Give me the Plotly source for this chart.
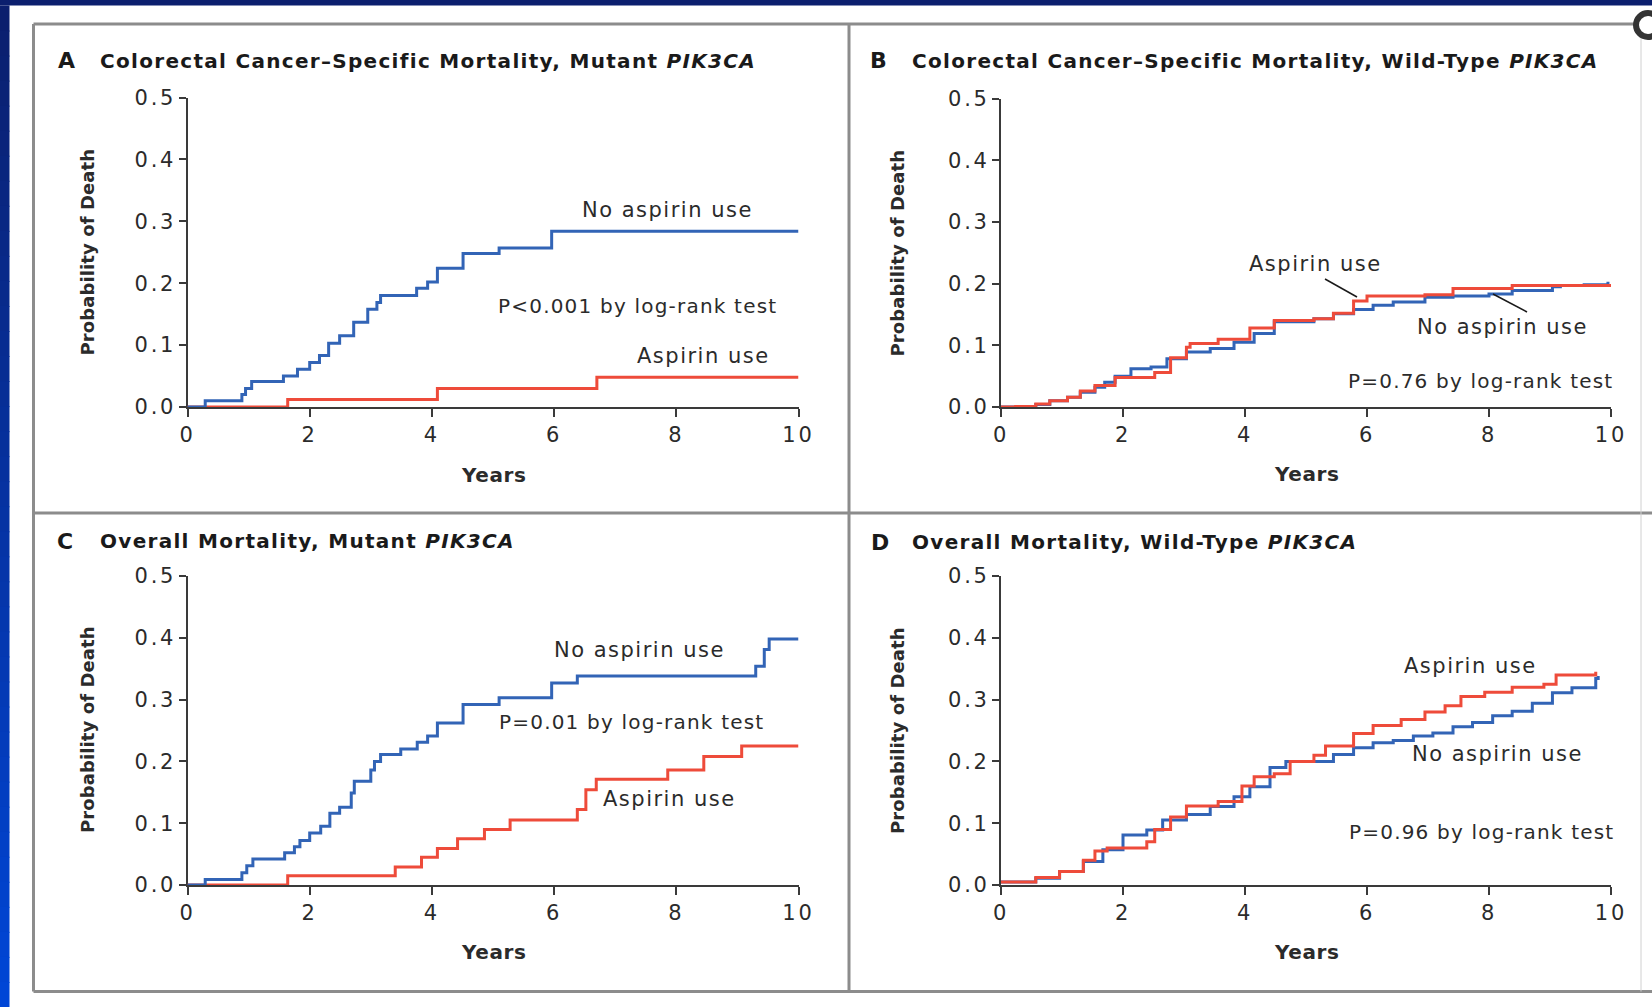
import plotly.graph_objects as go

W, H = 1652, 1007

# ---------------- data ----------------
YEARS_TICKS = [0, 2, 4, 6, 8, 10]
PROB_TICKS = [0.0, 0.1, 0.2, 0.3, 0.4, 0.5]

# Panel A: colorectal cancer-specific mortality, mutant PIK3CA
A_no_t = [0, 0.29, 0.89, 0.95, 1.05, 1.57, 1.80, 2.00, 2.16, 2.31, 2.49, 2.72, 2.95, 3.10, 3.16,
          3.75, 3.93, 4.09, 4.51, 5.10, 5.96, 10.0]
A_no_p = [0, 0.010, 0.020, 0.030, 0.041, 0.050, 0.061, 0.072, 0.083, 0.103, 0.115, 0.137, 0.158,
          0.169, 0.180, 0.192, 0.202, 0.224, 0.248, 0.257, 0.284, 0.284]
A_asp_t = [0, 1.64, 4.09, 6.70, 10.0]
A_asp_p = [0, 0.012, 0.030, 0.048, 0.048]

# Panel B: colorectal cancer-specific mortality, wild-type PIK3CA
B_no_t = [0, 0.57, 0.80, 1.09, 1.30, 1.54, 1.70, 1.87, 2.13, 2.46, 2.72, 3.04, 3.43, 3.82, 4.15,
          4.48, 5.13, 5.45, 5.78, 6.10, 6.43, 6.95, 7.41, 8.00, 8.38, 9.04, 9.17, 9.56, 9.95]
B_no_p = [0, 0.004, 0.010, 0.016, 0.024, 0.032, 0.040, 0.050, 0.062, 0.065, 0.078, 0.089, 0.095,
          0.105, 0.119, 0.138, 0.143, 0.151, 0.158, 0.165, 0.170, 0.178, 0.180, 0.183, 0.189,
          0.195, 0.197, 0.198, 0.203]
B_asp_t = [0, 0.24, 0.57, 0.80, 1.09, 1.30, 1.54, 1.87, 2.52, 2.78, 3.04, 3.10, 3.56, 4.08, 4.48,
           5.13, 5.45, 5.78, 6.00, 6.95, 7.41, 8.38, 10.0]
B_asp_p = [0, 0.001, 0.005, 0.010, 0.016, 0.026, 0.035, 0.048, 0.056, 0.080, 0.097, 0.103, 0.110,
           0.128, 0.140, 0.143, 0.152, 0.172, 0.180, 0.182, 0.192, 0.197, 0.197]

# Panel C: overall mortality, mutant PIK3CA
C_no_t = [0, 0.29, 0.89, 0.97, 1.07, 1.59, 1.75, 1.84, 2.00, 2.18, 2.33, 2.49, 2.68, 2.73, 3.00,
          3.06, 3.16, 3.49, 3.76, 3.93, 4.09, 4.51, 5.10, 5.96, 6.38, 9.30, 9.44, 9.52, 10.0]
C_no_p = [0, 0.009, 0.020, 0.031, 0.042, 0.052, 0.062, 0.072, 0.084, 0.095, 0.116, 0.126, 0.149,
          0.168, 0.186, 0.200, 0.211, 0.220, 0.231, 0.241, 0.262, 0.292, 0.303, 0.327, 0.338,
          0.354, 0.381, 0.398, 0.398]
C_asp_t = [0, 1.64, 3.40, 3.83, 4.09, 4.42, 4.86, 5.28, 6.38, 6.52, 6.69, 7.86, 8.45, 9.07, 10.0]
C_asp_p = [0, 0.015, 0.029, 0.045, 0.059, 0.075, 0.090, 0.105, 0.122, 0.154, 0.171, 0.186,
           0.208, 0.225, 0.225]

# Panel D: overall mortality, wild-type PIK3CA
D_no_t = [0, 0.57, 0.96, 1.35, 1.67, 2.00, 2.39, 2.65, 3.04, 3.43, 3.82, 4.08, 4.41, 4.67, 5.13,
          5.45, 5.78, 6.10, 6.43, 6.76, 7.08, 7.41, 7.73, 8.06, 8.38, 8.71, 9.04, 9.36, 9.75, 9.79]
D_no_p = [0.005, 0.011, 0.022, 0.038, 0.057, 0.081, 0.089, 0.105, 0.114, 0.127, 0.143, 0.159,
          0.190, 0.200, 0.200, 0.211, 0.222, 0.230, 0.234, 0.241, 0.246, 0.256, 0.263, 0.274,
          0.281, 0.294, 0.311, 0.319, 0.334, 0.338]
D_asp_t = [0, 0.57, 0.96, 1.35, 1.54, 1.74, 2.39, 2.52, 2.78, 3.04, 3.56, 3.95, 4.15, 4.48, 4.74,
           5.13, 5.32, 5.78, 6.10, 6.56, 6.95, 7.28, 7.54, 7.93, 8.38, 8.90, 9.10, 9.75]
D_asp_p = [0.005, 0.012, 0.022, 0.040, 0.055, 0.060, 0.070, 0.090, 0.110, 0.128, 0.135, 0.160,
           0.175, 0.180, 0.200, 0.210, 0.225, 0.245, 0.258, 0.268, 0.280, 0.290, 0.305, 0.312,
           0.320, 0.325, 0.340, 0.345]

PANEL_LETTERS = ["A", "B", "C", "D"]
PANEL_TITLES = [
    "Colorectal Cancer–Specific Mortality, Mutant <i>PIK3CA</i>",
    "Colorectal Cancer–Specific Mortality, Wild-Type <i>PIK3CA</i>",
    "Overall Mortality, Mutant <i>PIK3CA</i>",
    "Overall Mortality, Wild-Type <i>PIK3CA</i>",
]
Y_TITLE = "Probability of Death"
X_TITLE = "Years"
P_TEXTS = ["P&lt;0.001 by log-rank test", "P=0.76 by log-rank test",
           "P=0.01 by log-rank test", "P=0.96 by log-rank test"]
LBL_NO = "No aspirin use"
LBL_ASP = "Aspirin use"

# ---------------- styling ----------------
BLUE = "#3264b6"
RED = "#ee4b3a"
AXC = "#3a3a3a"
TXT = "#2b2b2b"
FRAME = "#8c8c8c"
FONT = "DejaVu Sans"


def sp(text, ls):
    return f'<span style="letter-spacing:{ls}px">{text}</span>'


def px(x):
    return x / W


def py(y):
    return 1 - y / H


# pixel boxes of each plot area: (x0, x10, y_at_0, y_at_0.5)
BOXES = {
    "A": (187.5, 798.5, 407.0, 97.5),
    "B": (1001.0, 1611.0, 407.0, 98.5),
    "C": (187.5, 798.5, 885.0, 576.0),
    "D": (1001.0, 1611.0, 885.0, 576.0),
}

fig = go.Figure()

series = [
    ("A", A_no_t, A_no_p, A_asp_t, A_asp_p),
    ("B", B_no_t, B_no_p, B_asp_t, B_asp_p),
    ("C", C_no_t, C_no_p, C_asp_t, C_asp_p),
    ("D", D_no_t, D_no_p, D_asp_t, D_asp_p),
]

layout_axes = {}
for i, (key, nt, npv, at, apv) in enumerate(series):
    n = i + 1
    xa = "x" if n == 1 else f"x{n}"
    ya = "y" if n == 1 else f"y{n}"
    x0, x1, y0, y1 = BOXES[key]
    order = [(at, apv, RED), (nt, npv, BLUE)] if key in ("A", "C") else [(nt, npv, BLUE), (at, apv, RED)]
    for t, p, col in order:
        fig.add_trace(go.Scatter(x=t, y=p, mode="lines", line=dict(color=col, width=3, shape="hv"),
                                 xaxis=xa, yaxis=ya, showlegend=False, hoverinfo="skip"))
    common = dict(showgrid=False, zeroline=False, showline=True, linecolor=AXC, linewidth=2,
                  ticks="outside", tickwidth=2, tickcolor=AXC, layer="below traces",
                  automargin=False,
                  tickfont=dict(family=FONT, size=21, color=TXT), fixedrange=True)
    layout_axes[("xaxis" if n == 1 else f"xaxis{n}")] = dict(
        common, domain=[px(x0), px(x1)], range=[0, 10], anchor=ya,
        tickvals=YEARS_TICKS, ticktext=[sp(str(v), 2.8) for v in YEARS_TICKS],
        ticklen=8, ticklabelstandoff=0)
    layout_axes[("yaxis" if n == 1 else f"yaxis{n}")] = dict(
        common, domain=[py(y0), py(y1)], range=[0, 0.5], anchor=xa,
        tickvals=PROB_TICKS, ticktext=[sp(f"{v:.1f}", 2.8) for v in PROB_TICKS],
        ticklen=7, ticklabelstandoff=-2)

fig.update_layout(**layout_axes)

ann = []


def add_text(text, x, y, size=20, bold=False, xanchor="center", angle=0, ls=1.2, color=TXT):
    t = sp(text, ls) if ls else text
    if bold:
        t = f"<b>{t}</b>"
    ann.append(dict(text=t, x=px(x), y=py(y), xref="paper", yref="paper", showarrow=False,
                    xanchor=xanchor, yanchor="middle", textangle=angle,
                    font=dict(family=FONT, size=size, color=color)))


# titles
title_pos = [(66, 97.6, 60.5), (879, 910, 60.5), (65, 97.6, 541), (879.5, 910, 542)]
for (lx, tx, ty), letter, title in zip(title_pos, PANEL_LETTERS, PANEL_TITLES):
    add_text(letter, lx, ty, size=22, bold=True, ls=0, color="#1a1a1a")
    add_text(title, tx, ty, size=20, bold=True, xanchor="left", ls=1.3, color="#1a1a1a")

# axis titles
for (yx, yy), (xx, xy) in [((87, 252.5), (493, 475)), ((897, 252.5), (1306, 474)),
                           ((87, 730), (493, 952)), ((897, 730), (1306, 952))]:
    add_text(Y_TITLE, yx, yy, size=18, bold=True, angle=-90, ls=0.1)
    add_text(X_TITLE, xx, xy, size=20, bold=True, ls=0.6)

# curve labels and p-values
LS_LBL, SZ_LBL = 1.5, 21
add_text(LBL_NO, 667.5, 210, size=SZ_LBL, ls=LS_LBL)
add_text(P_TEXTS[0], 637, 306)
add_text(LBL_ASP, 703.5, 356, size=SZ_LBL, ls=LS_LBL)

add_text(LBL_ASP, 1315.5, 264.5, size=SZ_LBL, ls=LS_LBL)
add_text(LBL_NO, 1502.5, 327, size=SZ_LBL, ls=LS_LBL)
add_text(P_TEXTS[1], 1480.5, 381)

add_text(LBL_NO, 639.7, 650, size=SZ_LBL, ls=LS_LBL)
add_text(P_TEXTS[2], 631.4, 721.7)
add_text(LBL_ASP, 669.3, 799, size=SZ_LBL, ls=LS_LBL)

add_text(LBL_ASP, 1470, 666, size=SZ_LBL, ls=LS_LBL)
add_text(LBL_NO, 1497, 754, size=SZ_LBL, ls=LS_LBL)
add_text(P_TEXTS[3], 1481, 831.5)

fig.update_layout(annotations=ann)

shapes = []


def rect(x0, y0, x1, y1, fill, line_w=0, line_c=None):
    shapes.append(dict(type="rect", xref="paper", yref="paper", x0=px(x0), x1=px(x1),
                       y0=py(y1), y1=py(y0), fillcolor=fill,
                       line=dict(width=line_w, color=line_c or fill), layer="below"))


def seg(x0, y0, x1, y1, color, w, layer="above"):
    shapes.append(dict(type="line", xref="paper", yref="paper", x0=px(x0), x1=px(x1),
                       y0=py(y0), y1=py(y1), line=dict(color=color, width=w), layer=layer))


# background bands (slide decoration)
rect(0, 0, W, 5.5, "#0b1f6e")
NSEG = 40
c_top = (11, 31, 110)
c_bot = (0, 70, 214)
for k in range(NSEG):
    f = k / (NSEG - 1)
    c = tuple(int(round(a + (b - a) * f)) for a, b in zip(c_top, c_bot))
    rect(0, 5.5 + k * (H - 5.5) / NSEG, 9.5, 5.5 + (k + 1) * (H - 5.5) / NSEG + 1,
         "rgb(%d,%d,%d)" % c)

# frame
seg(33.5, 24, 1636, 24, FRAME, 3)
seg(33.5, 991.5, W, 991.5, FRAME, 3)
seg(33.5, 24, 33.5, 991.5, FRAME, 3)
seg(849, 24, 849, 991.5, FRAME, 3)
seg(33.5, 513, W, 513, FRAME, 3)
seg(1641, 36, 1641, 991.5, "#d0d0d0", 1)
shapes.append(dict(type="circle", xref="paper", yref="paper", x0=px(1636), x1=px(1660),
                   y0=py(37), y1=py(13), line=dict(color="#333333", width=6),
                   fillcolor="white", layer="above"))

# leader lines in panel B
seg(1325, 279, 1357, 297, "#1a1a1a", 1.5)
seg(1493, 294, 1527, 312, "#1a1a1a", 1.5)

fig.update_layout(shapes=shapes)

fig.update_layout(width=W, height=H, autosize=False, margin=dict(l=0, r=0, t=0, b=0, pad=0),
                  paper_bgcolor="white", plot_bgcolor="rgba(0,0,0,0)", showlegend=False,
                  font=dict(family=FONT, color=TXT))

fig.write_html("out.html")
